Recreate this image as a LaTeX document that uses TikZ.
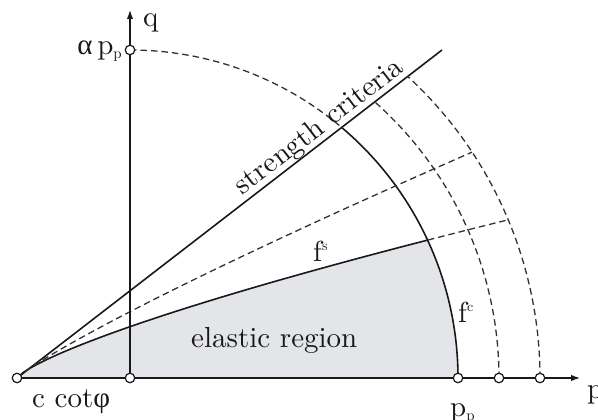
\documentclass[tikz,border=0pt]{standalone}
\usepackage{fontspec}
\setmainfont{lmroman10-regular}[Extension=.otf]
\newfontfamily\grk{Liberation Serif}
\usetikzlibrary{arrows.meta}
\definecolor{fillgray}{RGB}{228,229,232}
\definecolor{ink}{RGB}{25,25,25}
\definecolor{dashink}{RGB}{50,50,50}
\tikzset{
  mainline/.style={line width=1.6pt, draw=ink},
  axisline/.style={line width=1.2pt, draw=ink, -{Latex[length=9pt,width=6.5pt]}},
  dashline/.style={line width=1.3pt, draw=dashink, dash pattern=on 6.5pt off 4pt},
  dot/.style={circle, draw=ink, fill=white, line width=1.2pt, inner sep=0pt, minimum size=9.5pt},
  lbl/.style={font=\fontsize{29}{30}\selectfont, text=ink, inner sep=0pt},
}
\newcommand{\subp}[1]{\raisebox{-4pt}{\fontsize{15}{15}\selectfont #1}}
\newcommand{\supx}[1]{\raisebox{11pt}{\fontsize{14}{14}\selectfont #1}}
\begin{document}
\begin{tikzpicture}[x=1pt,y=1pt]
\useasboundingbox (0,0) rectangle (598,420);
\coordinate (A) at (17,42);
\coordinate (O) at (130,42);
\coordinate (S) at (442,370);
\coordinate (PE) at (580,42);
\coordinate (QE) at (130,410);
% elastic region
\fill[fillgray] (A) -- (458,42) arc[start angle=0,end angle=24.85,radius=328pt]
  -- plot[domain=411:0.01,samples=60] ({17+\x},{42+1.373*(\x)^0.766}) -- cycle;
% strength criteria line
\draw[mainline] (A) -- (S);
% arcs
\draw[dashline] (O) ++(90:328) arc[start angle=90,end angle=49.8,radius=328pt];
\draw[mainline] (O) ++(0:328) arc[start angle=0,end angle=49.8,radius=328pt];
\draw[dashline] (O) ++(0:369) arc[start angle=0,end angle=48.5,radius=369pt];
\draw[dashline] (O) ++(0:410) arc[start angle=0,end angle=47.4,radius=410pt];
% f^s curves
\draw[mainline] plot[domain=0.01:411,samples=60] ({17+\x},{42+1.373*(\x)^0.766});
\draw[dashline] plot[domain=411:491,samples=15] ({17+\x},{42+1.373*(\x)^0.766});
\draw[dashline] plot[domain=0.01:455,samples=60] ({17+\x},{42+1.0345*(\x)^0.88});
% axes
\draw[axisline] (A) -- (PE);
\draw[axisline] (O) -- (QE);
% dots
\node[dot] (dA) at (A) {};
\node[dot] (dO) at (O) {};
\node[dot] (dP) at (458,42) {};
\node[dot] (dP2) at (499,42) {};
\node[dot] (dP3) at (540,42) {};
\node[dot] (dQ) at (130,370) {};
% labels
\node[lbl, anchor=base west] (lq) at (143,393) {q};
\node[lbl, anchor=base east] (lap) at (122,365) {{\grk α}\,p\subp{p}};
\node[lbl, anchor=base west] (lc) at (32,12) {c cot{\grk φ}};
\node[lbl, anchor=base west] (le) at (191,72) {elastic region};
\node[lbl, anchor=base west] (lpp) at (450,3) {p\subp{p}};
\node[lbl, anchor=base west] (lfs) at (313,158) {f\supx{s}};
\node[lbl, anchor=base west] (lfc) at (458,97) {f\supx{c}};
\node[lbl, anchor=base west] (lp) at (587,21) {p};
\node[lbl, anchor=base, rotate=37.67] (ls) at (324,287) {strength criteria};
\end{tikzpicture}
\end{document}
